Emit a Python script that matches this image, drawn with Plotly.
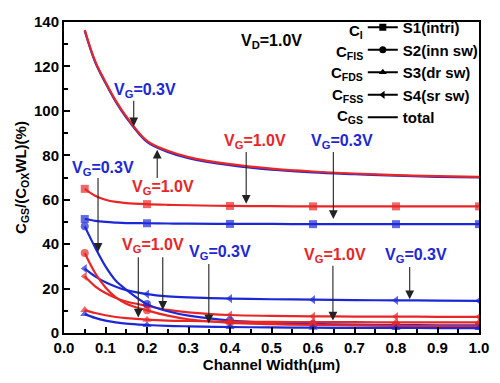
import plotly.graph_objects as go

# ---------------- data ----------------
width_um = [0.05, 0.075, 0.1, 0.125, 0.15, 0.2, 0.25, 0.3, 0.4, 0.5, 0.6, 0.7, 0.8, 0.9, 1.0]
marker_widths = [0.05, 0.2, 0.4, 0.6, 0.8, 1.0]

total_vg03 = [136, 122, 112.5, 104, 97, 86, 81.5, 78.7, 75.5, 73.5, 72.3, 71.5, 70.8, 70.3, 70.0]
total_vg10 = [136.4, 122.4, 113, 104.5, 97.5, 86.5, 82, 79.2, 76, 74, 72.7, 71.8, 71.1, 70.6, 70.3]

s1_vg10 = [64.9, 61.8, 60.0, 59.0, 58.5, 58.0, 57.7, 57.5, 57.2, 57.1, 57.0, 57.0, 57.0, 57.0, 57.0]
s1_vg03 = [51.3, 50.5, 50.0, 49.7, 49.5, 49.4, 49.3, 49.2, 49.1, 49.1, 49.0, 49.0, 49.0, 49.0, 49.0]

s2_vg10 = [36.0, 27.0, 20.5, 16.0, 13.2, 10.2, 7.8, 6.2, 4.6, 4.0, 3.6, 3.4, 3.2, 3.1, 3.0]
s2_vg03 = [48.0, 38.5, 30.0, 23.5, 19.5, 13.0, 9.8, 7.8, 5.6, 4.6, 4.1, 3.8, 3.6, 3.5, 3.4]

s3_vg10 = [10.3, 9.0, 8.0, 7.2, 6.7, 6.0, 5.6, 5.4, 5.1, 5.0, 4.9, 4.9, 4.8, 4.8, 4.8]
s3_vg03 = [8.5, 6.8, 5.6, 4.8, 4.2, 3.6, 3.2, 3.0, 2.7, 2.5, 2.4, 2.3, 2.3, 2.2, 2.2]

s4_vg10 = [25.5, 21.0, 18.0, 15.8, 14.2, 12.2, 10.4, 9.3, 8.1, 7.7, 7.5, 7.4, 7.4, 7.3, 7.3]
s4_vg03 = [29.0, 25.5, 22.8, 20.8, 19.3, 17.5, 16.5, 16.0, 15.5, 15.2, 15.0, 14.8, 14.7, 14.6, 14.5]

legend_names = ["S1(intri)", "S2(inn sw)", "S3(dr sw)", "S4(sr sw)", "total"]
legend_labels = ["C<sub>I</sub>", "C<sub>FIS</sub>", "C<sub>FDS</sub>", "C<sub>FSS</sub>", "C<sub>GS</sub>"]

x_ticks = [0.0, 0.1, 0.2, 0.3, 0.4, 0.5, 0.6, 0.7, 0.8, 0.9, 1.0]
y_ticks = [0, 20, 40, 60, 80, 100, 120, 140]

RED = "rgb(232,38,38)"
BLUE = "rgb(28,40,215)"
FONT = "Liberation Sans, Arial, sans-serif"

fig = go.Figure()

def msizes(sz):
    return [sz if any(abs(w - m) < 1e-9 for m in marker_widths) else 0 for w in width_um]

series = [
    (total_vg03, BLUE, None),
    (total_vg10, RED, None),
    (s1_vg03, BLUE, "square"),
    (s1_vg10, RED, "square"),
    (s4_vg03, BLUE, "triangle-left"),
    (s4_vg10, RED, "triangle-left"),
    (s2_vg03, BLUE, "circle"),
    (s2_vg10, RED, "circle"),
    (s3_vg03, BLUE, "triangle-up"),
    (s3_vg10, RED, "triangle-up"),
]
for vals, col, sym in series:
    if sym is None:
        fig.add_trace(go.Scatter(x=width_um, y=vals, mode="lines", line=dict(color=col, width=2.2, shape="spline"),
                                 showlegend=False, hoverinfo="skip"))
    else:
        fig.add_trace(go.Scatter(x=width_um, y=vals, mode="lines+markers",
                                 line=dict(color=col, width=2.2, shape="spline"),
                                 marker=dict(symbol=sym, size=msizes(8), color=col, line=dict(width=0)),
                                 showlegend=False, hoverinfo="skip"))

# legend entries (black samples)
leg_syms = ["square", "circle", "triangle-up", "triangle-left", None]
for name, sym in zip(legend_names, leg_syms):
    if sym:
        fig.add_trace(go.Scatter(x=[None], y=[None], mode="lines+markers", name=name,
                                 line=dict(color="black", width=2), marker=dict(symbol=sym, size=7, color="black")))
    else:
        fig.add_trace(go.Scatter(x=[None], y=[None], mode="lines", name=name,
                                 line=dict(color="black", width=2)))

annos = []
def label(x, y, text, color, size=16):
    annos.append(dict(x=x, y=y, xref="x", yref="y", text=text, showarrow=False,
                      font=dict(color=color, size=size, family=FONT, weight="bold")))

def arrow(x, y0, y1):
    annos.append(dict(x=x, y=y1, ax=x, ay=y0, xref="x", yref="y", axref="x", ayref="y", text="",
                      showarrow=True, arrowhead=2, arrowsize=1.6, arrowwidth=1.1, arrowcolor="#222"))

VG03 = "V<sub>G</sub>=0.3V"
VG10 = "V<sub>G</sub>=1.0V"
label(0.194, 109.3, VG03, BLUE); arrow(0.168, 105.2, 93.0)
label(0.238, 65.7, VG10, RED); arrow(0.2246, 69.1, 82.5)
label(0.461, 86.1, VG10, RED); arrow(0.439, 82.2, 58.2)
label(0.669, 86.1, VG03, BLUE); arrow(0.649, 82.2, 51.3)
label(0.095, 74.1, VG03, BLUE); arrow(0.082, 70.4, 36.5)
label(0.214, 39.6, VG10, RED); arrow(0.179, 34.8, 7.0); arrow(0.238, 34.8, 10.4)
label(0.377, 36.1, VG03, BLUE); arrow(0.349, 31.7, 4.3)
label(0.654, 35.0, VG10, RED); arrow(0.648, 30.9, 5.6)
label(0.848, 35.0, VG03, BLUE); arrow(0.833, 30.4, 15.2)
label(0.5, 131.3, "V<sub>D</sub>=1.0V", "black", 16)

# C labels next to legend
leg_row_y = [0.969, 0.903, 0.834, 0.764, 0.696]
for lab, yy in zip(legend_labels, leg_row_y):
    annos.append(dict(x=0.726, y=yy, xref="paper", yref="paper", text=lab, showarrow=False,
                      xanchor="right", yanchor="middle",
                      font=dict(color="black", size=15, family=FONT, weight="bold")))

fig.update_layout(
    width=500, height=383,
    margin=dict(l=64, r=16, t=11, b=50),
    paper_bgcolor="white", plot_bgcolor="white",
    font=dict(family=FONT, size=15, color="black", weight="bold"),
    showlegend=True,
    legend=dict(x=0.72, y=1.035, xanchor="left", yanchor="top", bgcolor="rgba(0,0,0,0)",
                font=dict(size=15, family=FONT, weight="bold"), itemwidth=30, tracegroupgap=0),
    annotations=annos,
    xaxis=dict(range=[0, 1.0], tickvals=x_ticks, ticktext=[f"{v:.1f}" for v in x_ticks],
               ticks="inside", ticklen=6, tickwidth=1.5, tickcolor="black",
               minor=dict(dtick=0.05, ticks="inside", ticklen=4, tickwidth=1.5, tickcolor="black"),
               showline=True, linecolor="black", linewidth=2, mirror=True, showgrid=False, zeroline=False,
               title=dict(text="Channel Width(μm)", font=dict(size=15, weight="bold"), standoff=4),
               tickfont=dict(size=15, weight="bold")),
    yaxis=dict(range=[0, 140], tickvals=y_ticks,
               ticks="inside", ticklen=6, tickwidth=1.5, tickcolor="black",
               minor=dict(dtick=10, ticks="inside", ticklen=4, tickwidth=1.5, tickcolor="black"),
               showline=True, linecolor="black", linewidth=2, mirror=True, showgrid=False, zeroline=False,
               title=dict(text="C<sub>GS</sub>/(C<sub>OX</sub>WL)(%)", font=dict(size=15, weight="bold"), standoff=4),
               tickfont=dict(size=15, weight="bold")),
)

fig.write_html("out.html")
